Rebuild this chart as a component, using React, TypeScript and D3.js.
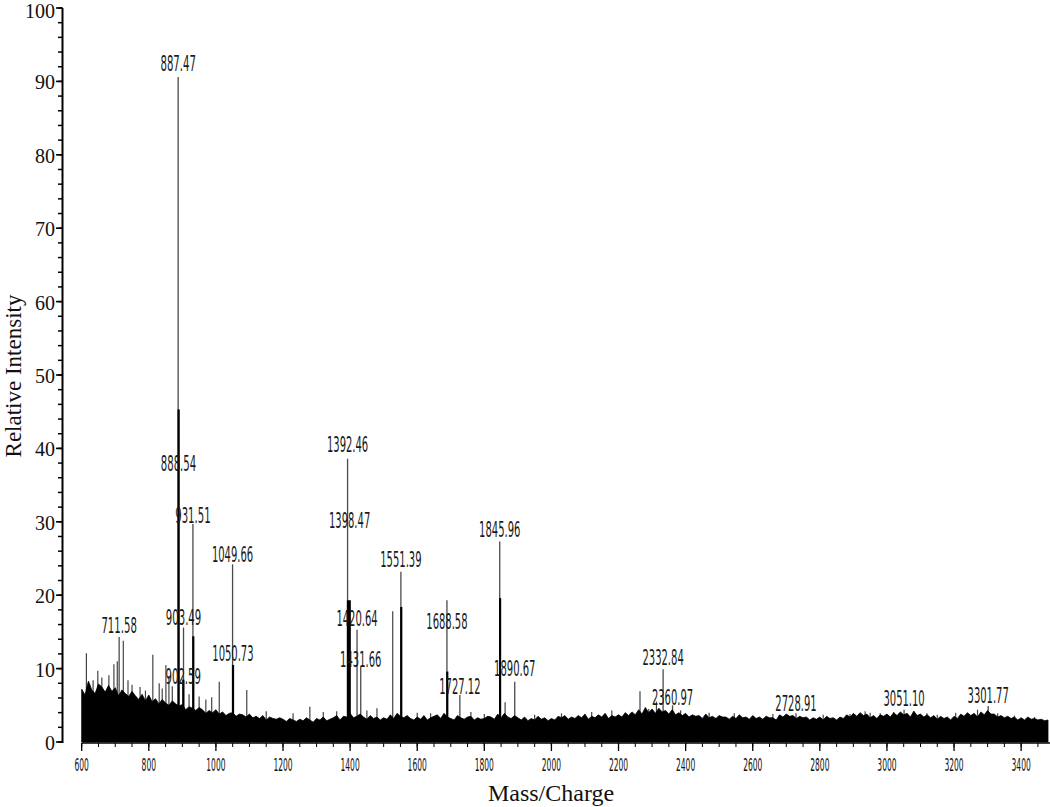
import { useMemo } from "react";
import * as d3 from "d3";

// m/z, relative intensity, label height (intensity units where the label sits)
const LABELED_MZ = [711.58, 887.47, 888.54, 902.59, 903.49, 931.51, 1049.66, 1050.73, 1392.46, 1398.47, 1420.64, 1431.66, 1551.39, 1688.58, 1727.12, 1845.96, 1890.67, 2332.84, 2360.97, 2728.91, 3051.1, 3301.77];
const LABELED_INT = [14.3, 90.6, 45.3, 8.5, 15.6, 29.7, 24.2, 10.5, 38.6, 19.3, 15.3, 10.3, 23.2, 19.3, 6.4, 27.3, 8.2, 9.9, 5.0, 3.9, 4.4, 4.9];
const LABEL_AT = [15.9, 92.5, 38.0, 8.9, 16.9, 30.9, 25.5, 12.1, 40.5, 30.2, 16.8, 11.3, 24.8, 16.4, 7.6, 28.9, 10.0, 11.5, 6.1, 5.3, 5.9, 6.3];

// adjacent isotope lines that render as heavy black strokes
const CLUSTER_MZ = [888.9, 902.9, 932.6, 1051.0, 1393.5, 1398.8, 1552.4, 1689.6, 1847.0];
const CLUSTER_INT = [45.3, 8.5, 14.4, 10.5, 19.3, 19.3, 18.4, 9.6, 19.6];

// unlabeled spikes standing out of the noise
const SPIKE_MZ = [
  614, 634, 648, 660, 681, 696, 706, 724, 738, 750, 774, 790, 812, 831, 840, 851, 860, 870, 920, 950, 970,
  987.5, 1010, 1092, 1150, 1230, 1280, 1320, 1360, 1450, 1480, 1527, 1600, 1640, 1760, 1800, 1862, 1950,
  2030, 2120, 2180, 2264, 2290, 2313, 2385, 2470, 2545, 2660, 2700, 2810, 2890, 2935, 2950, 2980, 3020,
  3080, 3119, 3150, 3205, 3234, 3270, 3330, 3380, 3440,
];
const SPIKE_INT = [
  12.1, 8.4, 9.7, 8.8, 9.1, 10.6, 11.0, 13.8, 8.4, 7.8, 7.5, 7.0, 11.9, 8.0, 7.3, 10.5, 9.0, 7.6, 6.5, 6.2, 5.8,
  6.1, 8.2, 7.1, 4.2, 3.9, 4.8, 4.1, 4.2, 4.3, 4.6, 17.8, 4.0, 3.9, 4.1, 3.8, 5.4, 3.7,
  3.9, 4.1, 4.3, 6.9, 4.5, 5.5, 4.3, 4.0, 3.9, 3.8, 3.6, 3.7, 3.8, 4.2, 4.0, 3.9, 4.1,
  4.2, 3.9, 3.7, 4.0, 3.7, 4.4, 3.9, 3.6, 3.4,
];

// jagged tops of the noise, every 10 m/z from 600
const NOISE_START = 600;
const NOISE_STEP = 10;
const NOISE = [
  7.2, 6.4, 8.3, 7.1, 6.6, 7.9, 7.5, 6.8, 7.7, 6.9, 7.4, 6.3, 7.1, 6.6, 6.2, 6.9, 6.3, 5.8, 6.5, 5.6,
  6.4, 5.5, 5.9, 5.2, 5.8, 5.3, 5.0, 5.6, 5.2, 4.9, 5.1, 4.4, 4.8, 4.6, 4.3, 4.7, 4.4, 3.9, 4.3, 4.0,
  4.4, 3.8, 4.1, 3.6, 3.9, 4.0, 3.5, 3.8, 3.7, 3.4, 3.8, 3.3, 3.5, 3.2, 3.6, 3.0, 3.4, 3.2, 3.1, 3.3,
  3.1, 2.8, 3.2, 3.0, 2.8, 3.1, 2.9, 3.3, 3.0, 2.7, 3.2, 3.0, 3.4, 2.9, 3.1, 3.3, 3.6, 3.0, 3.5, 3.4,
  3.9, 3.3, 3.5, 3.8, 3.4, 3.1, 3.6, 3.2, 3.4, 3.0, 3.3, 3.1, 3.7, 3.2, 3.9, 3.5, 3.3, 3.6, 3.2, 3.0,
  3.4, 3.1, 3.6, 3.0, 3.3, 3.5, 3.7, 3.2, 3.9, 3.4, 3.2, 3.0, 3.6, 3.3, 3.1, 3.4, 3.5, 3.0, 3.3, 3.1,
  3.2, 3.5, 3.4, 3.1, 3.8, 3.3, 3.9, 3.4, 3.2, 3.6, 3.3, 3.0, 3.4, 2.9, 3.2, 3.0, 3.5, 3.1, 3.3, 2.9,
  3.2, 3.0, 3.5, 3.3, 3.6, 3.1, 3.4, 3.2, 3.6, 3.3, 3.8, 3.1, 3.5, 3.3, 3.7, 3.4, 3.9, 3.2, 3.6, 3.4,
  3.7, 3.4, 4.0, 3.6, 4.1, 3.7, 4.4, 3.8, 4.7, 4.0, 4.5, 3.9, 4.6, 4.1, 4.3, 3.8, 4.4, 3.7, 4.0, 3.6,
  3.9, 3.4, 3.7, 3.5, 3.6, 3.2, 3.8, 3.3, 3.5, 3.2, 3.6, 3.4, 3.4, 3.1, 3.5, 3.2, 3.7, 3.3, 3.4, 3.1,
  3.6, 3.2, 3.4, 3.1, 3.5, 3.3, 3.3, 3.0, 3.7, 3.4, 3.8, 3.5, 3.6, 3.2, 3.5, 3.3, 3.4, 3.0, 3.3, 3.1,
  3.4, 3.0, 3.5, 3.2, 3.3, 3.0, 3.4, 3.2, 3.7, 3.4, 3.9, 3.5, 4.0, 3.6, 3.8, 3.3, 3.6, 3.2, 3.7, 3.5,
  3.8, 3.4, 4.0, 3.6, 4.1, 3.7, 3.9, 3.4, 4.2, 3.6, 3.8, 3.4, 3.7, 3.3, 3.6, 3.1, 3.5, 3.2, 3.4, 3.0,
  3.5, 3.2, 3.8, 3.5, 4.0, 3.6, 3.9, 3.4, 4.1, 3.7, 4.3, 3.8, 3.8, 3.4, 3.6, 3.3, 3.5, 3.2, 3.4, 3.0,
  3.3, 3.0, 3.4, 3.1, 3.2, 3.0, 3.1, 2.9, 3.0,
];

const X_TICKS = d3.range(600, 3401, 200);
const X_MINOR = d3.range(600, 3486, 50);
const Y_TICKS = d3.range(0, 101, 10);
const Y_MINOR = d3.range(0, 101, 2);

const W = 1050;
const H = 807;

export default function App() {
  const x = useMemo(() => d3.scaleLinear().domain([600, 3486]).range([81.7, 1050]), []);
  const y = useMemo(() => d3.scaleLinear().domain([0, 100]).range([742, 8]), []);

  const noisePath = useMemo(() => {
    const area = d3
      .area<number>()
      .x((_, i) => x(NOISE_START + i * NOISE_STEP))
      .y0(y(0))
      .y1((d) => y(d));
    return area(NOISE) || "";
  }, [x, y]);

  const serif = "'Liberation Serif', 'Times New Roman', serif";
  const narrow = "'Liberation Sans Narrow', 'Arial Narrow', 'DejaVu Sans Condensed', sans-serif";

  return (
    <svg width={W} height={H} style={{ position: "absolute", left: 0, top: 0, background: "#fff" }}>
      {/* small spikes */}
      {SPIKE_MZ.map((m, i) => (
        <line key={"s" + i} x1={x(m)} x2={x(m)} y1={y(0)} y2={y(SPIKE_INT[i])} stroke="#444" strokeWidth={1.2} />
      ))}

      {/* labeled peaks */}
      {LABELED_MZ.map((m, i) => (
        <line key={"p" + i} x1={x(m)} x2={x(m)} y1={y(0)} y2={y(LABELED_INT[i])} stroke="#4a4a4a" strokeWidth={1.3} />
      ))}

      {/* noise body */}
      <path d={noisePath} fill="#000" stroke="#000" strokeWidth={0.8} strokeLinejoin="miter" />

      {/* isotope clusters */}
      {CLUSTER_MZ.map((m, i) => (
        <line key={"c" + i} x1={x(m)} x2={x(m)} y1={y(0)} y2={y(CLUSTER_INT[i])} stroke="#000" strokeWidth={2.2} />
      ))}

      {/* peak labels */}
      {LABELED_MZ.map((m, i) => {
        const t = m.toFixed(2);
        return (
          <text
            key={"l" + i}
            x={x(m)}
            y={y(LABEL_AT[i])}
            textAnchor="middle"
            dominantBaseline="central"
            fontFamily={narrow}
            fontSize={22}
            fill="#1a1a1a"
            textLength={t.length * 5.9}
            lengthAdjust="spacingAndGlyphs"
          >
            {t}
          </text>
        );
      })}

      {/* y axis */}
      <line x1={62.5} x2={62.5} y1={y(0) + 1} y2={y(100)} stroke="#000" strokeWidth={2} />
      {Y_MINOR.map((v) => (
        <line key={"ym" + v} x1={58} x2={62.5} y1={y(v)} y2={y(v)} stroke="#000" strokeWidth={1.5} />
      ))}
      {Y_TICKS.map((v) => (
        <g key={"yt" + v}>
          <line x1={56} x2={62.5} y1={y(v)} y2={y(v)} stroke="#000" strokeWidth={1.6} />
          <text
            x={55}
            y={Math.max(y(v) + 1, 11)}
            textAnchor="end"
            dominantBaseline="central"
            fontFamily={serif}
            fontSize={20}
            fill="#111"
          >
            {v}
          </text>
        </g>
      ))}

      {/* x axis */}
      <line x1={x(600)} x2={W} y1={743} y2={743} stroke="#000" strokeWidth={1.6} />
      {X_MINOR.map((v) => (
        <line key={"xm" + v} x1={x(v)} x2={x(v)} y1={743} y2={747} stroke="#000" strokeWidth={1} />
      ))}
      {X_TICKS.map((v) => {
        const t = String(v);
        return (
          <g key={"xt" + v}>
            <line x1={x(v)} x2={x(v)} y1={743} y2={751} stroke="#000" strokeWidth={1.3} />
            <text
              x={x(v)}
              y={771}
              textAnchor="middle"
              fontFamily={narrow}
              fontSize={17}
              fill="#111"
              textLength={t.length * 4.8}
              lengthAdjust="spacingAndGlyphs"
            >
              {t}
            </text>
          </g>
        );
      })}

      {/* axis titles */}
      <text x={551} y={801} textAnchor="middle" fontFamily={serif} fontSize={24} fill="#111">
        Mass/Charge
      </text>
      <text
        transform="translate(21,376) rotate(-90)"
        textAnchor="middle"
        fontFamily={serif}
        fontSize={23}
        fill="#111"
      >
        Relative Intensity
      </text>
    </svg>
  );
}
